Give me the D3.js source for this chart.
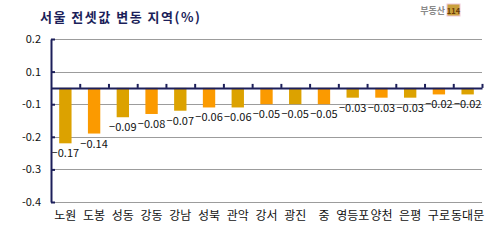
<!DOCTYPE html>
<html><head><meta charset="utf-8">
<script src="https://cdn.jsdelivr.net/npm/d3@7"></script>
<style>body{margin:0;background:#fff}svg{display:block}</style>
</head><body>
<script>
const categories = ['노원','도봉','성동','강동','강남','성북','관악','강서','광진','중','영등포','양천','은평','구로','동대문'];
const values = [-0.17,-0.14,-0.09,-0.08,-0.07,-0.06,-0.06,-0.05,-0.05,-0.05,-0.03,-0.03,-0.03,-0.02,-0.02];
const gridValues = [0.15,0.05,-0.05,-0.15,-0.25,-0.35];
const gridLabels = ['0.2','0.1','-0.1','-0.2','-0.3','-0.4'];
const title = '서울 전셋값 변동 지역(%)';

const W = 497, H = 241;
const svg = d3.select('body').append('svg').attr('width', W).attr('height', H);
const font = '"Noto Sans CJK KR","Noto Sans",sans-serif';
const navy = '#1c1f5a';

const x0 = 51, x1 = 482, yTop = 39, yBot = 202;
const y = d3.scaleLinear().domain([-0.35, 0.15]).range([yBot, yTop]);
const x = d3.scaleBand().domain(categories).range([x0, x1]).paddingInner(0.57).paddingOuter(0.285);
const xb = d3.scaleLinear().domain([0, categories.length]).range([x0, x1]);

// title
svg.append('text').attr('x', 40).attr('y', 22).attr('font-family', font).attr('font-size', 13)
  .attr('font-weight', 'bold').attr('letter-spacing', 1.5).attr('fill', navy).text(title);

// logo
const logo = svg.append('g');
logo.append('text').attr('x', 445).attr('y', 14).attr('text-anchor', 'end').attr('font-family', font)
  .attr('font-size', 9).attr('font-weight', 'bold').attr('fill', '#8a8a8a').text('부동산');
logo.append('rect').attr('x', 447).attr('y', 4).attr('width', 13).attr('height', 12).attr('fill', '#c9a03c').attr('stroke', '#f0c8d8');
logo.append('text').attr('x', 453.5).attr('y', 13.5).attr('text-anchor', 'middle').attr('font-family', font)
  .attr('font-size', 7.5).attr('font-weight', 'bold').attr('fill', '#6a3a08').text('114');

// gridlines
svg.append('g').selectAll('line').data(gridValues).join('line')
  .attr('x1', x0).attr('x2', x1).attr('y1', d => Math.round(y(d)) + 0.5).attr('y2', d => Math.round(y(d)) + 0.5)
  .attr('stroke', '#9c9c9c').attr('stroke-width', 1);

// bars
svg.append('g').selectAll('rect').data(values).join('rect')
  .attr('x', (d, i) => x(categories[i]))
  .attr('width', x.bandwidth())
  .attr('y', y(0))
  .attr('height', d => y(d) - y(0))
  .attr('fill', (d, i) => i % 2 === 0 ? '#dca200' : '#fb9a00');

// value labels
svg.append('g').selectAll('text').data(values).join('text')
  .attr('x', (d, i) => x(categories[i]) + x.bandwidth() / 2)
  .attr('y', d => y(d) + 14)
  .attr('text-anchor', 'middle').attr('font-family', font).attr('font-size', 11).attr('fill', '#111')
  .text(d => d3.format('.2f')(d));

// y axis
const ya = svg.append('g').attr('transform', `translate(${x0},0)`)
  .call(d3.axisLeft(y).tickValues(gridValues).tickSizeInner(-4).tickSizeOuter(0).tickPadding(10)
    .tickFormat((d, i) => gridLabels[i]));
ya.select('.domain').attr('stroke', navy).attr('stroke-width', 2);
ya.selectAll('.tick line').attr('stroke', navy).attr('stroke-width', 2);
ya.selectAll('.tick text').attr('font-family', font).attr('font-size', 11).attr('fill', '#111');

// x baseline axis with upward ticks
const xa = svg.append('g').attr('transform', `translate(0,${y(0)})`)
  .call(d3.axisBottom(xb).tickValues(d3.range(1, categories.length + 1)).tickSizeInner(-4).tickSizeOuter(0).tickFormat(''));
xa.select('.domain').attr('stroke', navy).attr('stroke-width', 2);
xa.selectAll('.tick line').attr('stroke', navy).attr('stroke-width', 2);

// category labels
svg.append('g').selectAll('text').data(categories).join('text')
  .attr('x', d => x(d) + x.bandwidth() / 2)
  .attr('y', 220)
  .attr('text-anchor', 'middle').attr('font-family', font).attr('font-size', 12).attr('fill', '#111')
  .text(d => d);
</script>
</body></html>
